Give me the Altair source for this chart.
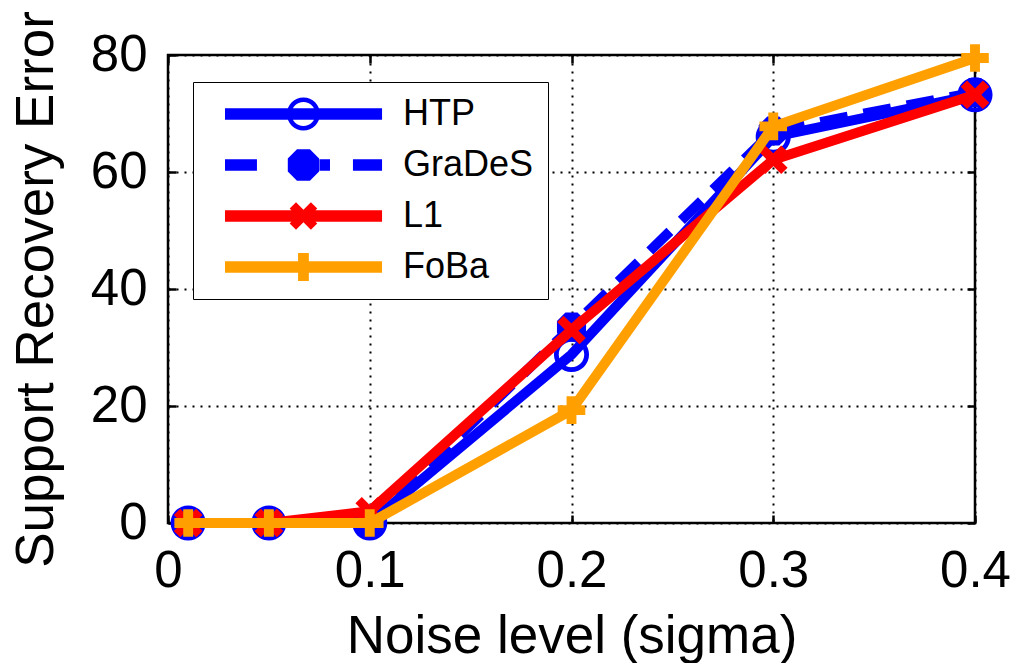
import math
import altair as alt
import pandas as pd

# ---------------- data ----------------
noise = [0.01, 0.05, 0.1, 0.2, 0.3, 0.4]
series_names = ["HTP", "GraDeS", "L1", "FoBa"]
htp = [0, 0, 0, 28.8, 66.0, 73.2]
grades = [0, 0, 0, 33.5, 67.0, 73.6]
l1 = [0, 0, 2.0, 33.0, 62.1, 73.2]
foba = [0, 0, 0, 19.3, 67.8, 79.5]
x_ticks = [0, 0.1, 0.2, 0.3, 0.4]
y_ticks = [0, 20, 40, 60, 80]

values = {"HTP": htp, "GraDeS": grades, "L1": l1, "FoBa": foba}
rows = []
for name in series_names:
    for xv, yv in zip(noise, values[name]):
        rows.append({"series": name, "noise": xv, "error": yv})
df = pd.DataFrame(rows)

# ---------------- styles ----------------
colors = ["#0000FF", "#0000FF", "#FF0000", "#FFA000"]
dashes = [None, [28, 16], None, None]
FONT = "Liberation Sans"
W, H = 807, 468


def f(v):
    s = f"{v:.3f}".rstrip("0").rstrip(".")
    return "0" if s in ("-0", "") else s


def poly(pts):
    return "M" + "L".join(f"{f(x)},{f(y)}" for x, y in pts) + "Z"


def circle(cx, r, cw=True):
    sw = 1 if cw else 0
    return (f"M{f(cx - r)},0A{f(r)},{f(r)} 0 1 {sw} {f(cx + r)},0"
            f"A{f(r)},{f(r)} 0 1 {sw} {f(cx - r)},0Z")


def plus_pts(cx, a, L):
    return [(cx - a, -L), (cx + a, -L), (cx + a, -a), (cx + L, -a), (cx + L, a),
            (cx + a, a), (cx + a, L), (cx - a, L), (cx - a, a), (cx - L, a),
            (cx - L, -a), (cx - a, -a)]


def plus(cx, a, L):
    return poly(plus_pts(cx, a, L))


def xmark(cx, a, L):
    c = math.cos(math.pi / 4)
    pts = []
    for x, y in plus_pts(0, a, L):
        pts.append((cx + x * c - y * c, x * c + y * c))
    return poly(pts)


def octagon(cx, r):
    pts = []
    for k in range(8):
        ang = math.radians(22.5 + 45 * k)
        pts.append((cx + r * math.cos(ang), r * math.sin(ang)))
    return poly(pts)


def rect(x0, x1, h):
    return f"M{f(x0)},{f(-h)}H{f(x1)}V{f(h)}H{f(x0)}Z"


marker_paths = [
    circle(0, 1.17, True) + circle(0, 0.85, False),
    octagon(0, 1.05),
    xmark(0, 0.3, 1.05),
    plus(0, 0.33, 0.92),
]

mc = 4.23
lh = 0.38
legend_paths = [
    rect(-1, 9.47, lh) + circle(mc, 1.1, True) + circle(mc, 0.8, False),
    rect(-1, 1.13, lh) + octagon(mc, 1.13) + rect(5.3, 6.0, lh) + rect(7.53, 9.47, lh),
    rect(-1, 9.47, lh) + xmark(mc, 0.3, 1.0),
    rect(-1, 9.47, lh) + plus(mc, 0.36, 0.93),
]

x_scale = alt.Scale(domain=[0, 0.4], nice=False, zero=False)
y_scale = alt.Scale(domain=[0, 80], nice=False)

x_enc = alt.X(
    "noise:Q", scale=x_scale,
    axis=alt.Axis(values=x_ticks, format="~g", title="Noise level (sigma)",
                  labelPadding=23, titlePadding=14, labelFlush=False,
                  labelOverlap=False),
)
y_enc = alt.Y(
    "error:Q", scale=y_scale,
    axis=alt.Axis(values=y_ticks, title="Support Recovery Error",
                  labelPadding=21, titlePadding=27, labelOverlap=False),
)

layers = []
for i, name in enumerate(series_names):
    base = alt.Chart(df).transform_filter(alt.datum.series == name)
    line_kw = dict(color=colors[i], strokeWidth=10)
    if dashes[i]:
        line_kw["strokeDash"] = dashes[i]
    layers.append(base.mark_line(**line_kw).encode(x=x_enc, y=y_enc))
    layers.append(
        base.mark_point(shape=marker_paths[i], size=900, filled=True,
                        color=colors[i], opacity=1, strokeWidth=0)
        .encode(x=x_enc, y=y_enc)
    )

legend_layer = (
    alt.Chart(pd.DataFrame({"series": series_names}))
    .transform_filter("false")
    .mark_point(filled=True, size=900, opacity=1)
    .encode(
        shape=alt.Shape("series:N",
                        scale=alt.Scale(domain=series_names, range=legend_paths),
                        legend=alt.Legend(title=None)),
        fill=alt.Fill("series:N",
                      scale=alt.Scale(domain=series_names, range=colors),
                      legend=alt.Legend(title=None)),
    )
)
layers.append(legend_layer)
main = alt.layer(*layers)


def tick_layer(x_orient, x_off, y_orient, y_off):
    tick_axis = dict(labels=False, ticks=True, tickSize=8, tickWidth=2.5,
                     tickColor="black", domain=False, grid=False, title=None)
    return (
        alt.Chart(df)
        .transform_filter("false")
        .mark_point(opacity=0)
        .encode(
            x=alt.X("noise:Q", scale=x_scale,
                    axis=alt.Axis(values=x_ticks, orient=x_orient, offset=x_off,
                                  **tick_axis)),
            y=alt.Y("error:Q", scale=y_scale,
                    axis=alt.Axis(values=y_ticks, orient=y_orient, offset=y_off,
                                  **tick_axis)),
        )
    )


# inward ticks on all four sides of the box
ticks_a = tick_layer("top", -H, "right", -W)   # bottom & left edges
ticks_b = tick_layer("bottom", -H, "left", -W)  # top & right edges

chart = (
    alt.layer(main, ticks_a, ticks_b)
    .resolve_axis(x="independent", y="independent")
    .properties(
        width=W,
        height=H,
        autosize=alt.AutoSizeParams(type="none"),
        padding={"left": 168, "top": 55, "right": 44, "bottom": 140},
        background="white",
    )
    .configure_view(stroke="black", strokeWidth=2.5)
    .configure_axis(
        labelFont=FONT, titleFont=FONT, labelFontSize=51, titleFontSize=53,
        titleFontWeight="normal", labelColor="black", titleColor="black",
        domain=False, ticks=False, tickSize=0, grid=True, gridColor="black",
        gridDash=[2, 6], gridWidth=2, gridOpacity=1,
    )
    .configure_legend(
        orient="none", legendX=25, legendY=27, padding=14, rowPadding=15,
        symbolOffset=15, labelOffset=145, labelFontSize=36, labelFont=FONT,
        labelColor="black", strokeColor="black", fillColor="white",
        symbolStrokeWidth=0, symbolSize=900, symbolOpacity=1, labelLimit=0,
    )
)

chart.save("out.html", embed_options={"renderer": "svg", "actions": False})
